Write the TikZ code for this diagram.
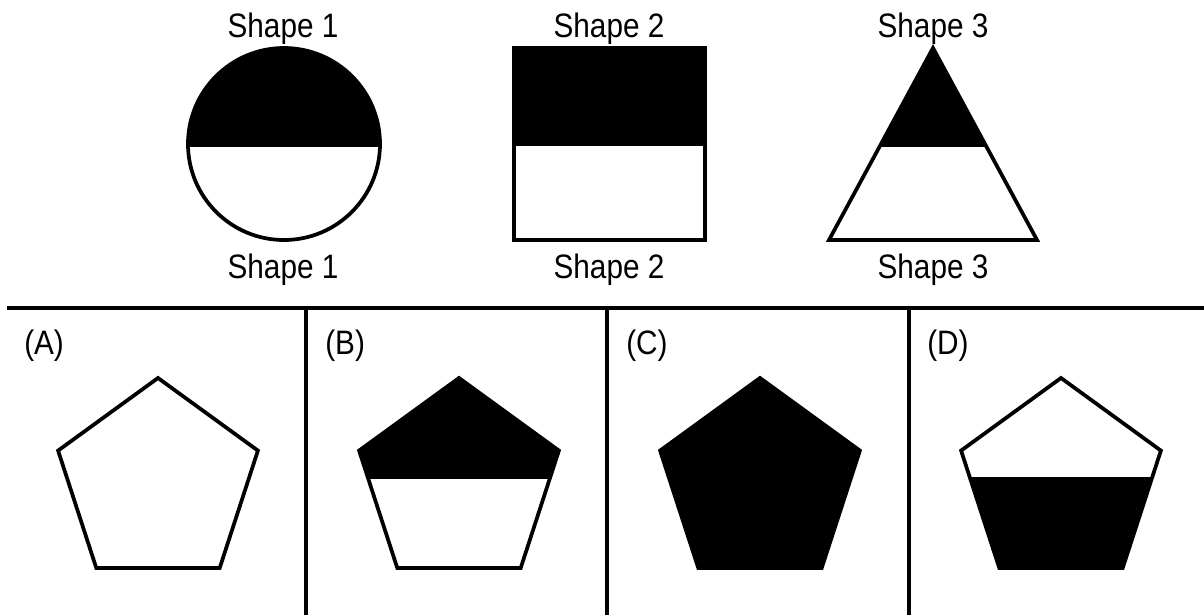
\documentclass[tikz,border=0pt]{standalone}
\usepackage{fontspec}
\setmainfont{Liberation Sans}
\usetikzlibrary{positioning}

% regular pentagon, apex up, centred on x = #1
\newcommand\pentpath[1]{({#1},378) -- ({#1+99.9},450.6) -- ({#1+61.7},568)
  -- ({#1-61.7},568) -- ({#1-99.9},450.6) -- cycle}
% text is a little taller than the font
\newcommand\tall[1]{\scalebox{1}[1.14]{#1}}

\begin{document}
\begin{tikzpicture}[x=0.75pt, y=-0.75pt,
    lbl/.style={font=\fontsize{22.3}{26}\selectfont, inner sep=0pt},
    rule/.style={line width=2.6pt},
    edge/.style={line width=2.8pt, line join=miter},
  ]
  \useasboundingbox (0,0) rectangle (1204,615);

  % Labels above and below each shape
  \foreach \i/\x in {1/283, 2/609, 3/933}{
    \node[lbl] (top\i) at (\x,28.5) {\tall{Shape \i}};
    \node[lbl] (bot\i) at (\x,270) {\tall{Shape \i}};
  }

  % Shape 1: circle, top half black
  \begin{scope}
    \clip (150,0) rectangle (420,146);
    \fill (284,144) circle[radius=96];
  \end{scope}
  \draw[edge] (284,144) circle[radius=96];

  % Shape 2: square, top half black
  \fill (514,48) rectangle (705,146);
  \draw[edge] (514,48) rectangle (705,240);

  % Shape 3: triangle, top part black
  \begin{scope}
    \clip (800,0) rectangle (1060,146);
    \fill (933,48) -- (1037,240) -- (829,240) -- cycle;
  \end{scope}
  \draw[edge] (933,48) -- (1037,240) -- (829,240) -- cycle;

  % Answer panels
  \draw[rule] (7,308) -- (1204,308);
  \foreach \x in {306, 607, 909}
    \draw[rule] (\x,308) -- (\x,615);

  % Pentagons: black between y = \ya and y = \yb
  \foreach \n/\cx/\ya/\yb in {A/158/0/0, B/459/300/478, C/760/300/615, D/1061/477/615}{
    \node[lbl, anchor=west] (lab\n) at ({\cx-134},346) {\tall{(\n)}};
    \begin{scope}
      \clip ({\cx-120},\ya) rectangle ({\cx+120},\yb);
      \fill \pentpath{\cx};
    \end{scope}
    \draw[edge] \pentpath{\cx};
  }
\end{tikzpicture}
\end{document}
